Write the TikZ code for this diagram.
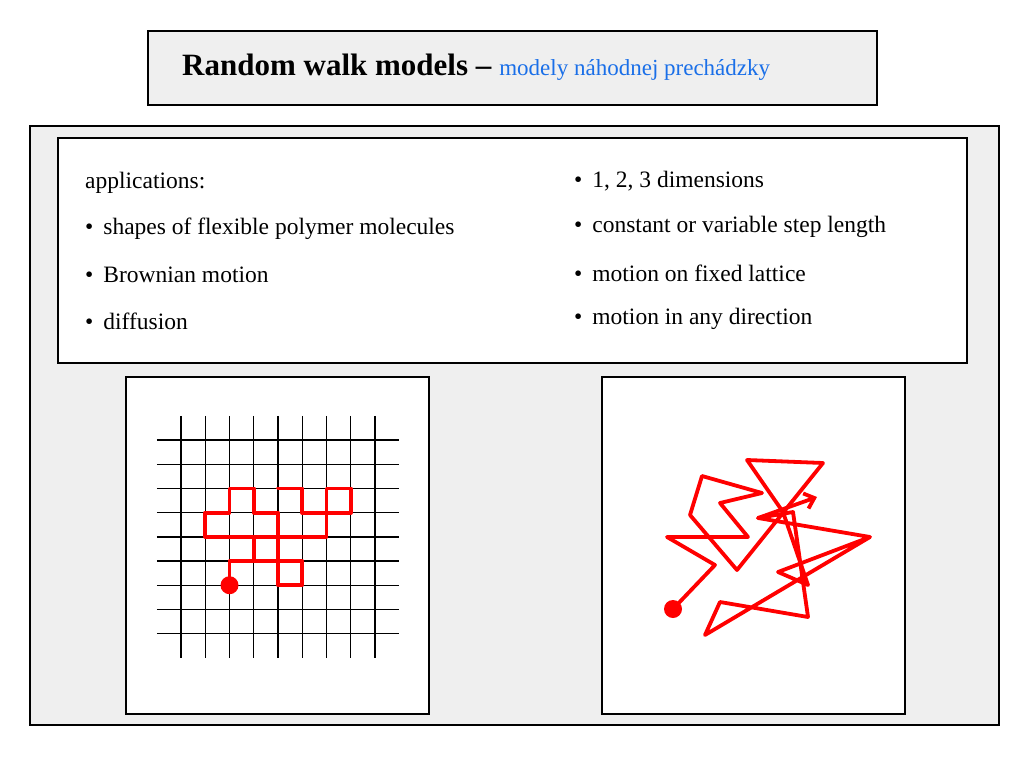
\documentclass[tikz,border=0pt]{standalone}
\usepackage{fontspec}
\setmainfont{Liberation Serif}
\usetikzlibrary{arrows.meta}
\definecolor{panel}{HTML}{EFEFEF}
\definecolor{subblue}{HTML}{1A6FE8}
\begin{document}
\begin{tikzpicture}[x=1pt,y=-1pt,
  box/.style={draw=black,line width=1.8pt},
  txt/.style={anchor=west,inner sep=0pt,font=\fontsize{23.5}{26}\selectfont},
  walk/.style={draw=red,line width=3.8pt,line join=round,line cap=round},
  gridl/.style={draw=black,line width=1.4pt}]
\useasboundingbox (0,0) rectangle (1024,768);
\node[box,fill=panel,minimum width=729pt,minimum height=74pt,anchor=north west] (title) at (147,30) {};
\node[inner sep=0pt,anchor=west] (tt) at (182,67) {\fontsize{31}{34}\selectfont\textbf{Random walk models –} {\fontsize{23}{26}\selectfont\color{subblue} modely náhodnej prechádzky}};
\node[box,fill=panel,minimum width=969pt,minimum height=599pt,anchor=north west] (outer) at (29,125) {};
\node[box,fill=white,minimum width=909pt,minimum height=225pt,anchor=north west] (tbox) at (57,137) {};
\node[txt] (a0) at (85,183) {applications:};
\node[txt] (a1) at (85,229) {•\hspace{10pt}shapes of flexible polymer molecules};
\node[txt] (a2) at (85,275) {•\hspace{10pt}Brownian motion};
\node[txt] (a3) at (85,321) {•\hspace{10pt}diffusion};
\node[txt] (b0) at (574,181) {•\hspace{10pt}1, 2, 3 dimensions};
\node[txt] (b1) at (574,227) {•\hspace{10pt}constant or variable step length};
\node[txt] (b2) at (574,273) {•\hspace{10pt}motion on fixed lattice};
\node[txt] (b3) at (574,319) {•\hspace{10pt}motion in any direction};
\node[box,fill=white,minimum width=303pt,minimum height=337pt,anchor=north west] (lp) at (125,376) {};
\node[box,fill=white,minimum width=303pt,minimum height=337pt,anchor=north west] (rp) at (601,376) {};
% lattice
\begin{scope}[shift={(181,440)},x=24.25pt,y=-24.2pt]
\foreach \i in {0,...,8} {
  \draw[gridl] (\i,-1) -- (\i,9);
  \draw[gridl] (-1,\i) -- (9,\i);
}
\draw[walk] (2,6)--(2,5)--(3,5)--(3,4)--(1,4)--(1,3)--(2,3)--(2,2)--(3,2)--(3,3)--(4,3)--(4,6)--(5,6)--(5,5)--(3,5);
\draw[walk] (3,4)--(6,4)--(6,3)--(5,3)--(5,2)--(4,2);
\draw[walk] (6,3)--(6,2)--(7,2)--(7,3)--cycle;
\fill[red] (2,6) circle (9pt);
\end{scope}
% free walk
\coordinate (s) at (673,609);
\draw[walk] (s)--(715,565)--(667,537)--(748,537)--(720,503)--(762,493)--(702,476)--(690,515)--(737,570)--(823,463)--(747,460)--(783,512)--(808,585)--(778,572)--(870,537)--(758,518)--(793,512)--(808,617)--(720,602)--(705,635)--(870,537);
\draw[walk,-{Straight Barb[length=9pt,width=16pt]}] (758,518)--(817,497);
\fill[red] (s) circle (9pt);
\end{tikzpicture}
\end{document}
